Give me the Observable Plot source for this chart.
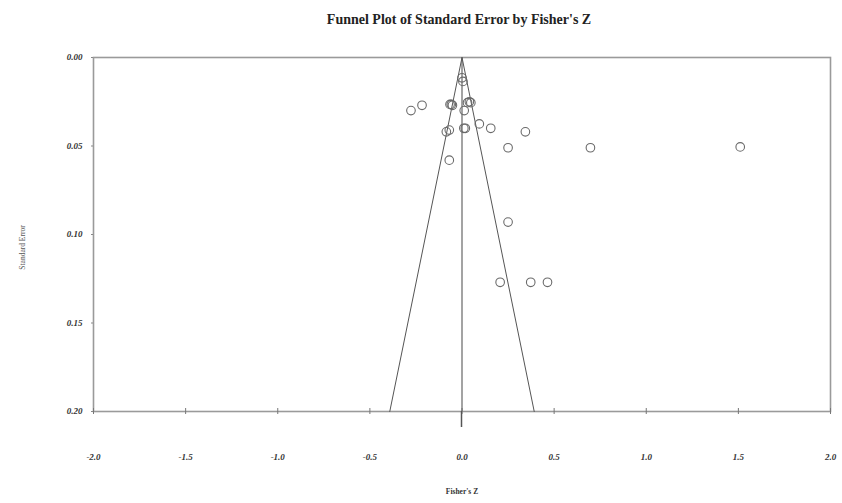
<!DOCTYPE html>
<html>
<head>
<meta charset="utf-8">
<script src="https://cdn.jsdelivr.net/npm/d3@7"></script>
<script src="https://cdn.jsdelivr.net/npm/@observablehq/plot@0.6"></script>
<style>
  html, body { margin: 0; padding: 0; background: #fff; }
  #wrap { width: 842px; height: 503px; overflow: hidden; }
  #title { height: 38px; line-height: 40px; text-align: center; font-family: "Liberation Serif", serif; font-weight: bold; font-size: 14px; color: #222; padding-left: 76px; box-sizing: border-box; }
</style>
</head>
<body>
<div id="wrap">
  <div id="title">Funnel Plot of Standard Error by Fisher's Z</div>
  <div id="chart"></div>
</div>
<script>
const studyZ  = [0.000, 0.005, -0.277, -0.217, -0.065, -0.058, -0.052, 0.030, 0.040, 0.048, 0.012, -0.069, -0.085, 0.010, 0.018, 0.094, 0.156, 0.344, 0.250, 0.697, 1.510, -0.069, 0.250, 0.207, 0.373, 0.464];
const studySE = [0.0115, 0.0135, 0.030, 0.027, 0.0265, 0.0265, 0.027, 0.0255, 0.025, 0.0255, 0.030, 0.041, 0.042, 0.040, 0.040, 0.0375, 0.040, 0.042, 0.051, 0.051, 0.0505, 0.058, 0.093, 0.127, 0.127, 0.127];
const meanEffect = 0.0;
const funnelZ  = [-0.392, 0.0, 0.392];
const funnelSE = [0.20, 0.00, 0.20];
const xTicks = [-2.0, -1.5, -1.0, -0.5, 0.0, 0.5, 1.0, 1.5, 2.0];
const yTicks = [0.00, 0.05, 0.10, 0.15, 0.20];
const xTitle = "Fisher's Z";
const yTitle = "Standard Error";

const studies = studyZ.map((z, i) => ({z, se: studySE[i]}));
const funnel = funnelZ.map((z, i) => ({z, se: funnelSE[i]}));
const tickFont = {fontFamily: "Liberation Serif", fontWeight: "bold", fontStyle: "italic", fontSize: 9, fill: "#333"};
const noLabel = () => "";

const plot = Plot.plot({
  width: 842,
  height: 465,
  marginTop: 19,
  marginBottom: 92,
  marginLeft: 93,
  marginRight: 12,
  style: {background: "#fff", overflow: "visible"},
  x: {domain: [-2, 2]},
  y: {domain: [0, 0.2], reverse: true},
  marks: [
    Plot.frame({stroke: "#9a9a9a", strokeWidth: 1.6}),
    Plot.axisX(xTicks, {anchor: "bottom", tickSize: 6, dy: -3, tickFormat: noLabel, stroke: "#777", label: null}),
    Plot.axisX(xTicks, {anchor: "bottom", tickSize: 0, tickPadding: 42, tickFormat: d => d.toFixed(1), ...tickFont, label: null}),
    Plot.axisY(yTicks, {anchor: "left", tickSize: 2, tickPadding: 9, tickFormat: d => d.toFixed(2), ...tickFont, stroke: "#888", label: null}),
    Plot.ruleX([meanEffect], {y1: 0, y2: 0.2, stroke: "#666", strokeWidth: 1.2}),
    Plot.line(funnel, {x: "z", y: "se", stroke: "#555", strokeWidth: 1}),
    Plot.dot(studies, {x: "z", y: "se", r: 4.3, stroke: "#6a6a6a", strokeWidth: 1.1, fill: "none"}),
    Plot.text([xTitle], {frameAnchor: "bottom", dy: 82, fontFamily: "Liberation Serif", fontWeight: "bold", fontSize: 7.5, fill: "#333"}),
    Plot.text([yTitle], {frameAnchor: "left", textAnchor: "middle", dx: -71, dy: 13, rotate: -90, fontFamily: "Liberation Serif", fontSize: 7.5, fill: "#555"})
  ]
});
// extend the mean-effect line a little below the x axis, as in the reference
const sx = plot.scale("x"), sy = plot.scale("y");
const ext = document.createElementNS("http://www.w3.org/2000/svg", "line");
const xm = sx.apply(meanEffect), yb = sy.apply(0.2);
ext.setAttribute("x1", xm); ext.setAttribute("x2", xm);
ext.setAttribute("y1", yb); ext.setAttribute("y2", yb + 16);
ext.setAttribute("stroke", "#555"); ext.setAttribute("stroke-width", "1.5");
plot.appendChild(ext);
document.getElementById("chart").appendChild(plot);
</script>
</body>
</html>
